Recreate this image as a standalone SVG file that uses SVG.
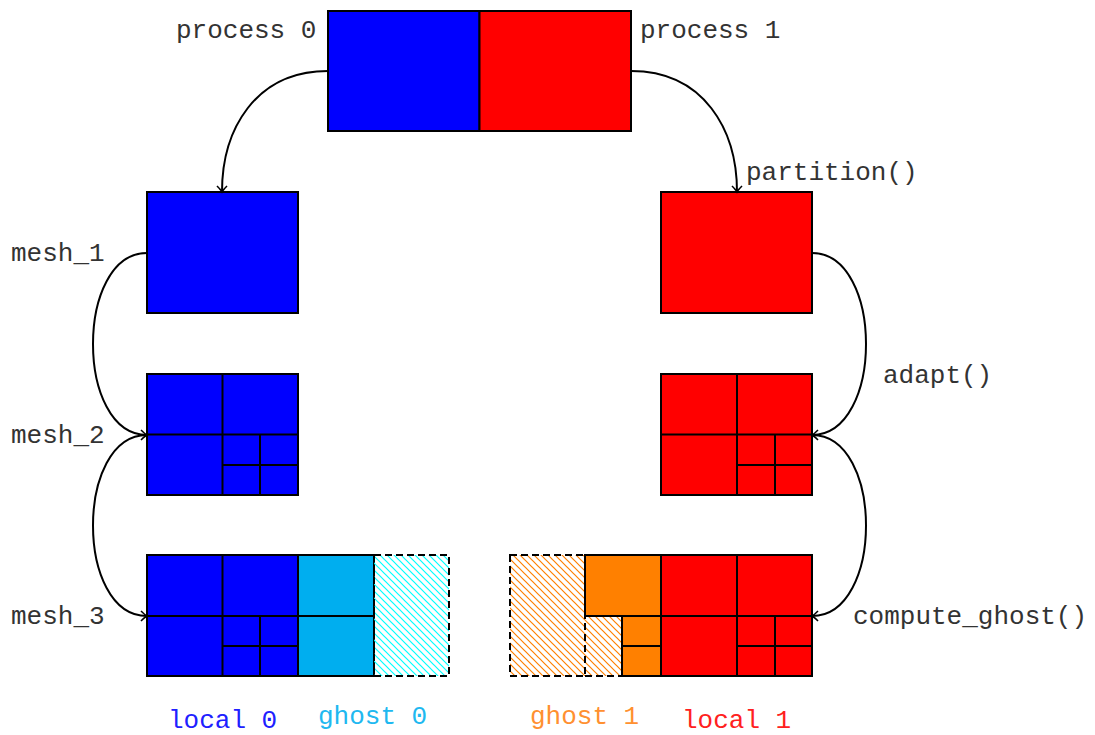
<svg xmlns="http://www.w3.org/2000/svg" width="1095" height="735" viewBox="0 0 1095 735">
  <style>
    .lbl { font-family: "Liberation Mono", "Courier New", monospace; font-size: 26px; fill: #333; }
    .cell { stroke: #000; stroke-width: 2; }
    .grid { stroke: #000; stroke-width: 2; fill: none; }
    .dash { fill: none; stroke: #000; stroke-width: 2; stroke-dasharray: 7 4; }
    .blue { fill: #0000ff; }
    .red { fill: #ff0000; }
    .cyan { fill: #00aeef; }
    .orange { fill: #ff8000; }
    .edge { fill: none; stroke: #000; stroke-width: 2; marker-end: url(#arrow); }
  </style>
  <defs>
    <marker id="arrow" viewBox="-8 -6 10 12" markerWidth="10" markerHeight="12" refX="0" refY="0" orient="auto" markerUnits="userSpaceOnUse">
      <path d="M-6,-5 Q-2,-1 0,0 Q-2,1 -6,5" fill="none" stroke="#000" stroke-width="1.6"/>
    </marker>
    <pattern id="hatchCyan" width="7" height="7" patternUnits="userSpaceOnUse">
      <path d="M-1,-1 L8,8 M-1,6 L1,8 M6,-1 L8,1" stroke="#00ffff" stroke-width="1.2"/>
    </pattern>
    <pattern id="hatchOrange" width="7" height="7" patternUnits="userSpaceOnUse">
      <path d="M-1,-1 L8,8 M-1,6 L1,8 M6,-1 L8,1" stroke="#ff8000" stroke-width="1.2"/>
    </pattern>
  </defs>
  <rect width="1095" height="735" fill="#fff"/>

  <!-- global mesh split between two processes -->
  <g id="global_mesh">
    <rect class="cell blue" x="328" y="11" width="151.5" height="120"/>
    <rect class="cell red" x="479.5" y="11" width="151.5" height="120"/>
  </g>

  <!-- process 0 column -->
  <g id="mesh1_p0">
    <rect class="cell blue" x="147" y="192" width="151" height="121"/>
  </g>
  <g id="mesh2_p0">
    <rect class="cell blue" x="147" y="374" width="151" height="121"/>
    <path class="grid" d="M222.5,374 V495 M147,434.5 H298 M260,434.5 V495 M222.5,465 H298"/>
  </g>
  <g id="mesh3_p0">
    <rect class="cell blue" x="147" y="555" width="151" height="121"/>
    <path class="grid" d="M222.5,555 V676 M147,616 H298 M260,616 V676 M222.5,646 H298"/>
    <rect class="cell cyan" x="298" y="555" width="76" height="121"/>
    <path class="grid" d="M298,616 H374"/>
    <rect fill="url(#hatchCyan)" x="374" y="555" width="75" height="121"/>
    <rect class="dash" x="374" y="555" width="75" height="121"/>
  </g>

  <!-- process 1 column -->
  <g id="mesh1_p1">
    <rect class="cell red" x="661" y="192" width="151" height="121"/>
  </g>
  <g id="mesh2_p1">
    <rect class="cell red" x="661" y="374" width="151" height="121"/>
    <path class="grid" d="M737,374 V495 M661,434.5 H812 M775,434.5 V495 M737,465 H812"/>
  </g>
  <g id="mesh3_p1">
    <rect fill="url(#hatchOrange)" x="510" y="555" width="75" height="121"/>
    <rect fill="url(#hatchOrange)" x="585" y="616" width="37" height="60"/>
    <rect class="dash" x="510" y="555" width="75" height="121"/>
    <path class="dash" d="M585,616 H622 M585,676 H622"/>
    <rect class="cell orange" x="585" y="555" width="76" height="61"/>
    <rect class="cell orange" x="622" y="616" width="39" height="30"/>
    <rect class="cell orange" x="622" y="646" width="39" height="30"/>
    <rect class="cell red" x="661" y="555" width="151" height="121"/>
    <path class="grid" d="M737,555 V676 M661,616 H812 M775,616 V676 M737,646 H812"/>
  </g>

  <!-- connectors -->
  <g id="connectors">
    <path class="edge" d="M328,71 C255,71 222,130 222,192"/>
    <path class="edge" d="M631,71 C704,71 737,130 737,192"/>
    <path class="edge" d="M147,253 C75,253 75,435 147,435"/>
    <path class="edge" d="M147,435 C75,435 75,616 147,616"/>
    <path class="edge" d="M812,253 C884,253 884,435 812,435"/>
    <path class="edge" d="M812,435 C884,435 884,616 812,616"/>
  </g>

  <!-- labels -->
  <g id="labels">
    <text class="lbl" x="176" y="38">process 0</text>
    <text class="lbl" x="640" y="38">process 1</text>
    <text class="lbl" x="746" y="180">partition()</text>
    <text class="lbl" x="11" y="261">mesh_1</text>
    <text class="lbl" x="11" y="443">mesh_2</text>
    <text class="lbl" x="11" y="624">mesh_3</text>
    <text class="lbl" x="883" y="383">adapt()</text>
    <text class="lbl" x="853" y="624">compute_ghost()</text>
    <text class="lbl" x="168" y="728" style="fill:#2020ff">local 0</text>
    <text class="lbl" x="318" y="724" style="fill:#20b8f0">ghost 0</text>
    <text class="lbl" x="530" y="724" style="fill:#ff9030">ghost 1</text>
    <text class="lbl" x="682" y="728" style="fill:#ff2020">local 1</text>
  </g>
</svg>
